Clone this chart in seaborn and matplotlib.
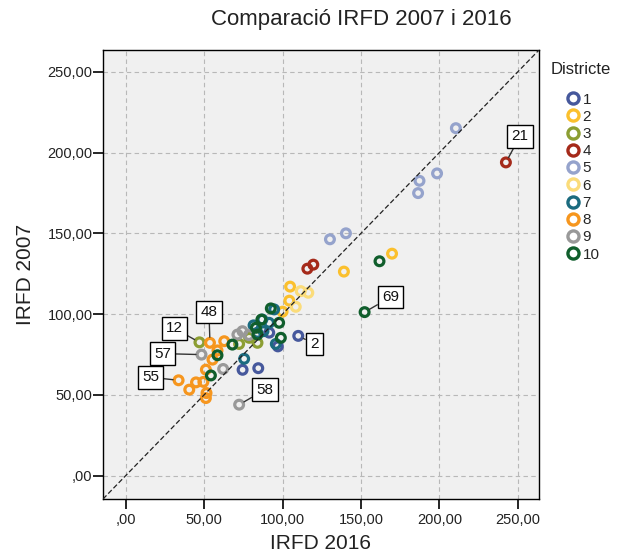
import numpy as np
import pandas as pd
import matplotlib
matplotlib.use("Agg")
import matplotlib.pyplot as plt
from matplotlib.lines import Line2D
from matplotlib.ticker import FuncFormatter
import seaborn as sns

# values (IRFD 2016 on x, IRFD 2007 on y)
irfd_2016 = [110.0, 74.5, 84.5, 97.0, 91.5,
             169.8, 139.1, 104.8, 104.3, 100.0,
             47.0, 78.7, 84.0, 72.3,
             242.4, 115.8, 119.6,
             210.5, 198.5, 187.3, 186.4, 130.2, 140.4,
             111.6, 116.4, 108.4,
             94.6, 87.1, 81.5, 91.4, 87.8, 84.0, 75.5, 95.7,
             53.7, 62.8, 58.5, 55.3, 51.1, 49.5, 33.7, 44.8, 40.5, 51.5, 51.1,
             48.3, 72.3, 62.1, 71.2, 74.4, 78.5,
             161.8, 152.3, 92.5, 86.5, 83.0, 84.0, 97.8, 98.9, 68.0, 58.5, 54.3]
irfd_2007 = [86.5, 65.5, 66.5, 80.0, 88.5,
             137.4, 126.3, 117.0, 108.3, 101.5,
             82.5, 85.3, 82.2, 81.5,
             193.9, 128.1, 130.6,
             215.1, 187.1, 182.5, 174.9, 146.3, 150.0,
             114.2, 113.2, 104.5,
             102.9, 96.6, 93.0, 94.6, 89.4, 88.4, 72.3, 81.5,
             82.2, 83.2, 77.5, 71.8, 65.6, 58.0, 59.0, 57.7, 53.2, 51.1, 48.0,
             74.9, 43.9, 66.0, 87.3, 89.4, 87.0,
             132.7, 101.2, 103.5, 96.6, 91.5, 87.3, 94.6, 85.3, 81.1, 74.5, 62.0]
districte = [1] * 5 + [2] * 5 + [3] * 4 + [4] * 3 + [5] * 6 + [6] * 3 + \
            [7] * 8 + [8] * 11 + [9] * 6 + [10] * 11
etiqueta = [""] * len(irfd_2016)
etiqueta[0] = "2"
etiqueta[10] = "12"
etiqueta[14] = "21"
etiqueta[34] = "48"
etiqueta[40] = "55"
etiqueta[45] = "57"
etiqueta[46] = "58"
etiqueta[52] = "69"

districtes = [1, 2, 3, 4, 5, 6, 7, 8, 9, 10]
colors = ["#46589c", "#fbc02d", "#8c9e33", "#a52a1a", "#95a3cc",
          "#fbdc7a", "#1b6b7f", "#f6961e", "#999999", "#105e2c"]

# where the label boxes sit relative to their point, in pixels
label_offset = {"2": (16, -8), "12": (-25, 14), "21": (14, 26), "48": (-1, 31),
                "55": (-28, 3), "57": (-39, 1), "58": (26, 15), "69": (26, 15)}

df = pd.DataFrame({"IRFD 2016": irfd_2016, "IRFD 2007": irfd_2007,
                   "Districte": districte, "etiqueta": etiqueta})

sns.set_theme(style="ticks", rc={"axes.facecolor": "#f0f0f0",
                                 "axes.edgecolor": "black",
                                 "axes.linewidth": 1.0})
plt.rcParams["font.family"] = ["Liberation Sans", "DejaVu Sans"]

fig = plt.figure(figsize=(6.22, 5.58), dpi=100)
ax = fig.add_axes([103 / 622, 1 - 499 / 558, 436 / 622, 449 / 558])

sns.scatterplot(data=df, x="IRFD 2016", y="IRFD 2007", hue="Districte",
                hue_order=districtes, palette=colors, s=40, linewidth=2.3,
                legend=False, ax=ax, zorder=3)
pc = ax.collections[0]
pc.set_edgecolors(pc.get_facecolors())
pc.set_facecolors("none")

lo, hi = -14.5, 263.5
ax.set_xlim(lo, hi)
ax.set_ylim(lo, hi)
ax.plot([lo, hi], [lo, hi], color="#222222", lw=0.9, ls=(0, (4, 2)), zorder=4)

ticks = [0, 50, 100, 150, 200, 250]
fmt = FuncFormatter(lambda v, p: ",00" if v == 0 else f"{v:.2f}".replace(".", ","))
ax.set_xticks(ticks)
ax.set_yticks(ticks)
ax.xaxis.set_major_formatter(fmt)
ax.yaxis.set_major_formatter(fmt)
ax.grid(True, color="#b8b8b8", lw=0.8, ls=(0, (4, 3)))
ax.set_axisbelow(True)
ax.tick_params(axis="both", direction="out", length=7, width=1.2, labelsize=10.5,
               color="black", labelcolor="#222222")
ax.tick_params(axis="y", pad=0.5)
ax.tick_params(axis="x", pad=3)
ax.set_xlabel("IRFD 2016", fontsize=15, color="#222222", labelpad=5)
ax.set_ylabel("IRFD 2007", fontsize=15, color="#222222", labelpad=9)

for _, r in df[df["etiqueta"] != ""].iterrows():
    dx, dy = label_offset[r["etiqueta"]]
    ax.annotate(r["etiqueta"], (r["IRFD 2016"], r["IRFD 2007"]),
                xytext=(dx, dy), textcoords="offset pixels",
                ha="center", va="center", fontsize=11, color="#111111",
                bbox=dict(boxstyle="square,pad=0.28", fc="white", ec="black", lw=1),
                arrowprops=dict(arrowstyle="-", color="#333333", lw=1,
                                shrinkA=0, shrinkB=4), zorder=5)

fig.text(361 / 622, 1 - 20 / 558, "Comparació IRFD 2007 i 2016", ha="center",
         va="center", fontsize=16, color="#222222")

# legend: title placed on its own, entries indented under it
fig.text(551 / 622, 1 - 69 / 558, "Districte", ha="left", va="center",
         fontsize=12, color="#222222")
handles = [Line2D([], [], ls="", marker="o", mfc="none", mec=c, mew=2.4, ms=8)
           for c in colors]
fig.legend(handles, [str(d) for d in districtes],
           loc="upper left", bbox_to_anchor=(558 / 622, 1 - 85 / 558),
           frameon=False, fontsize=11, handlelength=1.0, handletextpad=0.1,
           labelspacing=0.21, borderpad=0)

fig.savefig("out.png", dpi=100)
